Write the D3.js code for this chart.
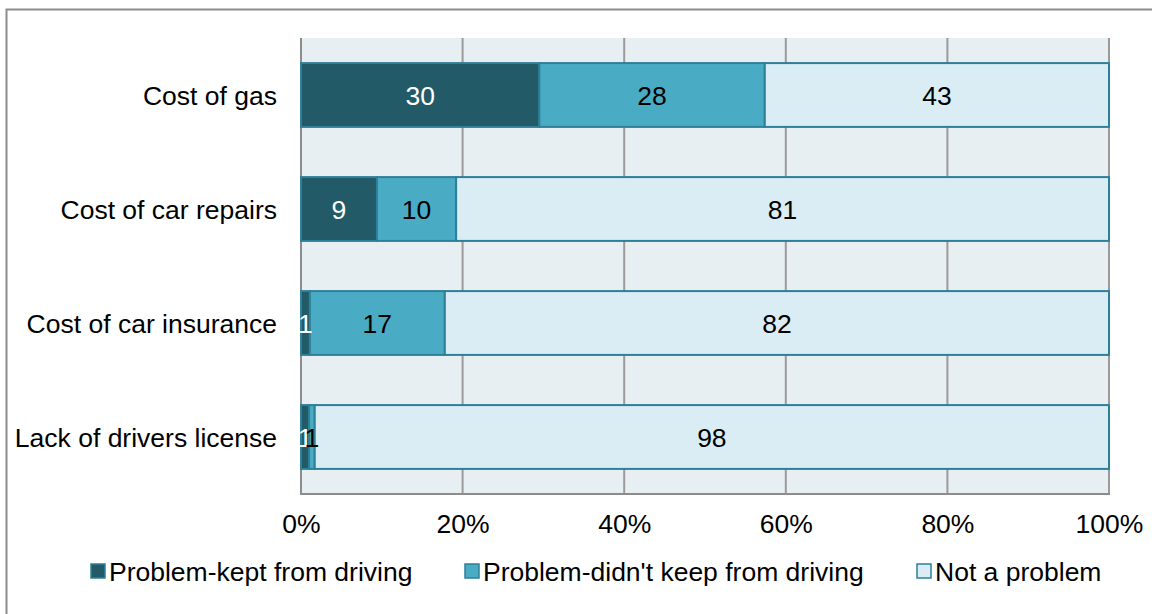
<!DOCTYPE html>
<html>
<head>
<meta charset="utf-8">
<script src="https://cdn.jsdelivr.net/npm/d3@7"></script>
<style>
html,body{margin:0;padding:0;background:#fff;}
svg{display:block;font-family:"Liberation Sans",Arial,sans-serif;}
</style>
</head>
<body>
<svg id="chart" width="1152" height="614"></svg>
<script>
const categories = ["Cost of gas","Cost of car repairs","Cost of car insurance","Lack of drivers license"];
const seriesNames = ["Problem-kept from driving","Problem-didn't keep from driving","Not a problem"];
const keptFromDriving = [29.5, 9.4, 1.1, 1.0];
const didntKeep = [27.9, 9.8, 16.7, 0.7];
const notAProblem = [42.6, 80.8, 82.2, 98.3];
const tickValues = [0,20,40,60,80,100];
const tickLabels = ["0%","20%","40%","60%","80%","100%"];

const colors = ["#225a68","#4aabc4","#daedf4"];
const labelColors = ["#ffffff","#000000","#000000"];
const FS = 26.5;

const svg = d3.select("#chart");
const m = {left:301, right:1109, top:38, bottom:494};

// outer frame
svg.append("path").attr("d","M6.5,614 L6.5,9.5 L1152,9.5")
  .attr("fill","none").attr("stroke","#8c8c8c").attr("stroke-width",2);

const x = d3.scaleLinear().domain([0,100]).range([m.left,m.right]);
const y = d3.scaleBand().domain(categories).range([m.top,m.bottom]).paddingInner(0.44).paddingOuter(0.22);

// plot background
svg.append("rect").attr("x",m.left).attr("y",m.top).attr("width",m.right-m.left).attr("height",m.bottom-m.top).attr("fill","#e8eff3");

// grid
svg.append("g").selectAll("line").data(tickValues.slice(1)).join("line")
  .attr("x1",d=>x(d)).attr("x2",d=>x(d)).attr("y1",m.top).attr("y2",m.bottom)
  .attr("stroke","#9a9a9a").attr("stroke-width",2);

// axes lines
svg.append("line").attr("x1",m.left).attr("x2",m.left).attr("y1",m.top).attr("y2",m.bottom+1).attr("stroke","#8c8c8c").attr("stroke-width",2);
svg.append("line").attr("x1",m.left-1).attr("x2",m.right+1).attr("y1",m.bottom).attr("y2",m.bottom).attr("stroke","#8c8c8c").attr("stroke-width",2);

const rows = categories.map((c,i)=>({cat:c, vals:[keptFromDriving[i],didntKeep[i],notAProblem[i]]}));
const stackData = rows.map(r=>{let acc=0; return r.vals.map((v,k)=>{const s={cat:r.cat,k,v,x0:acc,x1:acc+v}; acc+=v; return s;});}).flat();

svg.append("g").selectAll("rect").data(stackData).join("rect")
  .attr("x",d=>x(d.x0)).attr("width",d=>x(d.x1)-x(d.x0))
  .attr("y",d=>y(d.cat)).attr("height",y.bandwidth())
  .attr("fill",d=>colors[d.k]).attr("stroke","#2e8098").attr("stroke-width",2);

svg.append("g").selectAll("text").data(stackData).join("text")
  .attr("x",d=>(x(d.x0)+x(d.x1))/2).attr("y",d=>y(d.cat)+y.bandwidth()/2)
  .attr("dy","0.36em").attr("text-anchor","middle").attr("font-size",FS)
  .attr("fill",d=>labelColors[d.k]).text(d=>Math.round(d.v));

// category labels
svg.append("g").selectAll("text").data(categories).join("text")
  .attr("x",277).attr("y",d=>y(d)+y.bandwidth()/2).attr("dy","0.36em")
  .attr("text-anchor","end").attr("font-size",FS).attr("fill","#000").text(d=>d);

// x axis labels
const xAxis = d3.axisBottom(x).tickValues(tickValues).tickFormat((d,i)=>tickLabels[i]).tickSize(0).tickPadding(20);
const gx = svg.append("g").attr("transform",`translate(0,${m.bottom})`).call(xAxis);
gx.select(".domain").remove();
gx.selectAll("text").attr("font-size",FS).attr("fill","#000").attr("font-family","Liberation Sans, Arial, sans-serif");

// legend
const legendX = [91, 465, 917];
const lg = svg.append("g").selectAll("g").data(seriesNames).join("g")
  .attr("transform",(d,i)=>`translate(${legendX[i]},571)`);
lg.append("rect").attr("x",0).attr("y",-7).attr("width",14).attr("height",14)
  .attr("fill",(d,i)=>colors[i]).attr("stroke","#2e8098").attr("stroke-width",1.5);
lg.append("text").attr("x",18).attr("dy","0.36em").attr("font-size",FS).attr("fill","#000").text(d=>d);
</script>
</body>
</html>
